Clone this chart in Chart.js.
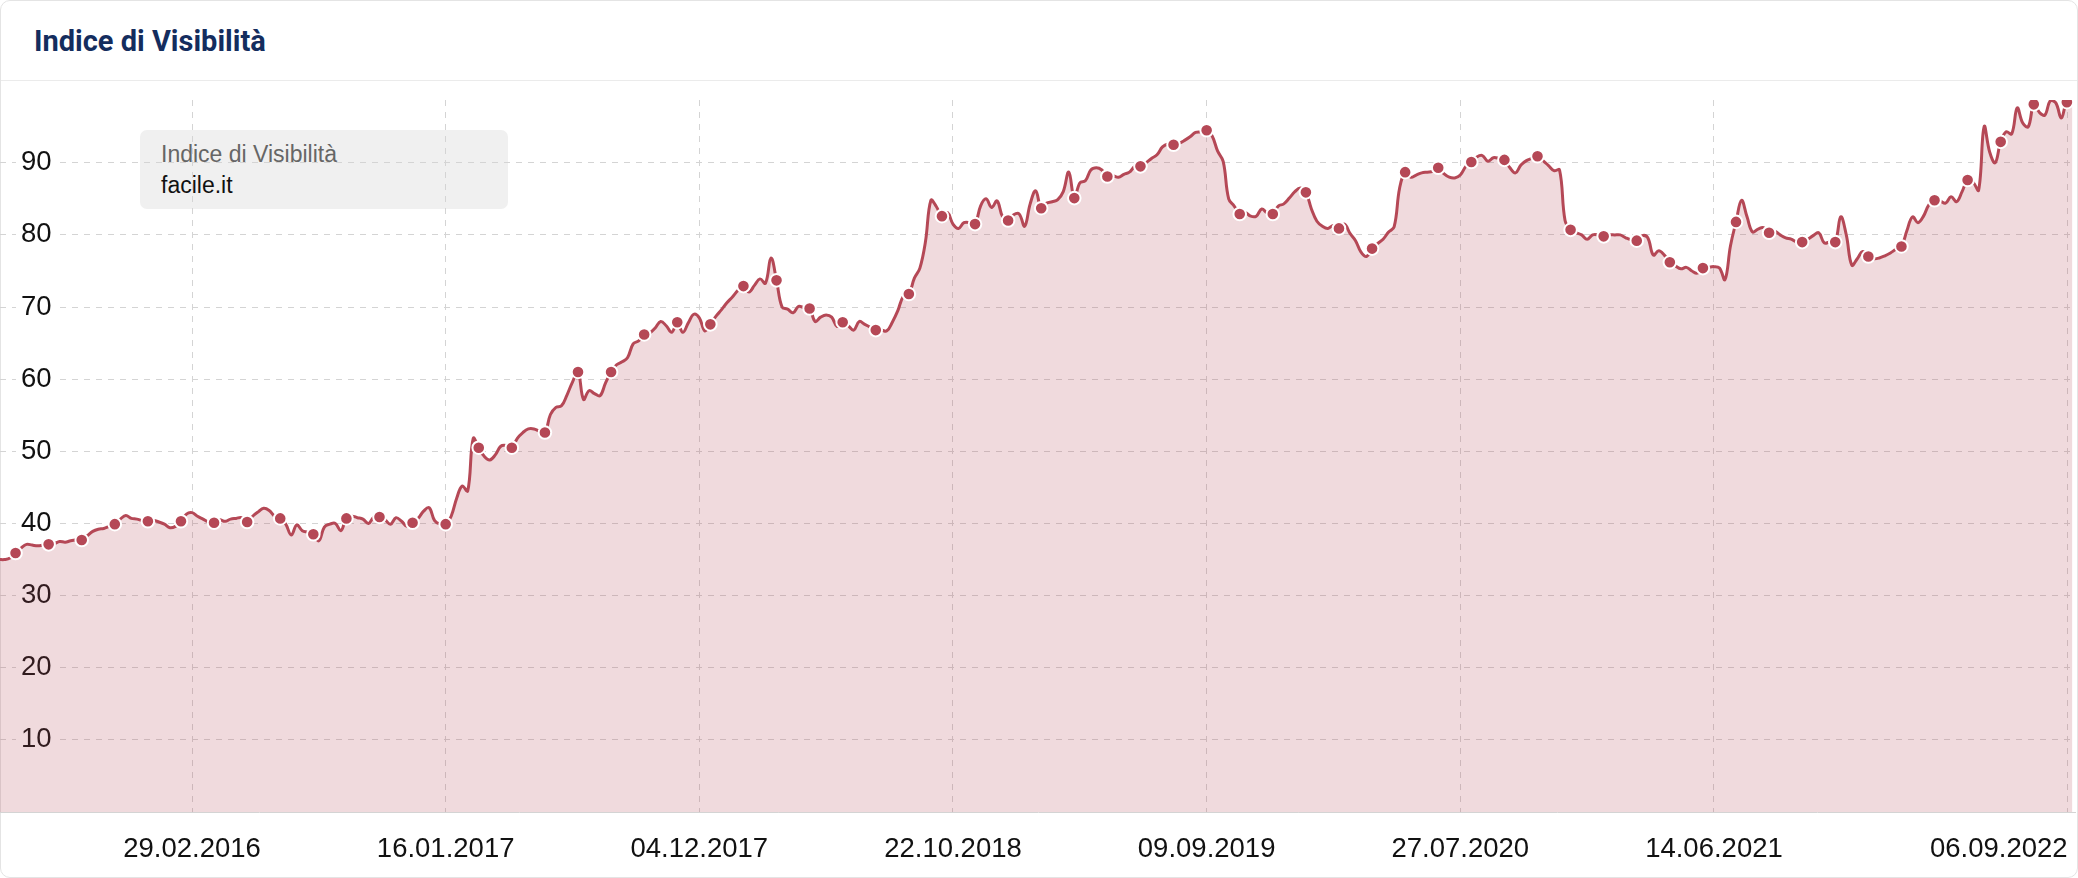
<!DOCTYPE html>
<html lang="it">
<head>
<meta charset="utf-8">
<title>Indice di Visibilità</title>
<script src="https://cdn.jsdelivr.net/npm/chart.js@4.4.0/dist/chart.umd.min.js"></script>
<style>
  html, body { margin: 0; padding: 0; background: #fff; }
  body { width: 2078px; height: 878px; position: relative; overflow: hidden; font-family: "Liberation Sans", Arial, sans-serif; }
  .card { position: absolute; left: 0; top: 0; width: 2078px; height: 878px; box-sizing: border-box; border: 1px solid #e4e4e4; border-radius: 10px; background: #fff; }
  .card-title { position: absolute; left: 33px; top: 26px; margin: 0; font: 700 29px/29px Roboto, sans-serif; color: #142d5e; white-space: nowrap; }
  .card-sep { position: absolute; left: 0; right: 0; top: 79px; height: 1px; background: #ebebeb; }
  .legend-box { position: absolute; left: 140px; top: 130px; width: 368px; height: 79px; border-radius: 7px; background: #f0f0f0; }
  .legend-box span { position: absolute; left: 21px; font-size: 23px; line-height: 23px; white-space: nowrap; }
  .legend-metric { top: 13px; color: #666; }
  .legend-domain { top: 44px; color: #111; }
  .chart-wrap { position: absolute; left: 0; top: 80px; width: 2076px; height: 798px; }
</style>
</head>
<body>
<div class="card">
  <h2 class="card-title">Indice di Visibilità</h2>
  <div class="card-sep"></div>
</div>
<div class="legend-box">
  <span class="legend-metric">Indice di Visibilità</span>
  <span class="legend-domain">facile.it</span>
</div>
<div class="chart-wrap"><canvas id="chartVisibilita"></canvas></div>

<script>
// serie settimanale, il primo valore corrisponde al 29.06.2015
const startDate = "2015-06-29";
const tickLabels = ["29.02.2016", "16.01.2017", "04.12.2017", "22.10.2018", "09.09.2019", "27.07.2020", "14.06.2021", "06.09.2022"];
const visibilityValues = [
  35.0, 35.0, 35.2, 35.9, 36.6, 37.1, 37.0, 36.9, 37.0, 37.1,
  37.2, 37.5, 37.4, 37.6, 37.7, 37.7, 38.3, 38.9, 39.2, 39.3,
  39.6, 39.9, 40.6, 41.1, 40.7, 40.6, 40.4, 40.3, 40.4, 40.2,
  39.9, 39.4, 39.6, 40.3, 41.3, 41.5, 41.0, 40.6, 40.2, 40.1,
  40.5, 40.3, 40.6, 40.7, 40.8, 40.2, 41.0, 41.6, 42.1, 41.8,
  41.0, 40.7, 39.9, 38.4, 39.8, 39.0, 38.8, 38.5, 37.6, 39.5,
  39.9, 40.0, 39.0, 40.7, 41.0, 40.8, 40.6, 40.0, 40.9, 40.9,
  40.5, 39.9, 40.8, 40.3, 39.6, 40.1, 40.7, 41.7, 42.2, 40.4,
  39.9, 39.9, 41.0, 43.5, 45.2, 44.5, 51.8, 50.5, 49.3, 48.8,
  49.5, 50.7, 50.8, 50.5, 51.8, 52.6, 53.1, 53.1, 52.8, 52.6,
  55.1, 56.1, 56.3, 57.8, 59.6, 61.0, 57.2, 58.4, 58.0, 57.7,
  59.5, 61.0, 62.0, 62.4, 63.0, 64.9, 65.3, 66.2, 66.4, 67.1,
  68.0, 67.4, 66.5, 67.9, 66.5, 67.8, 69.0, 68.5, 66.7, 67.6,
  68.7, 69.6, 70.6, 71.4, 72.3, 72.9, 72.1, 73.0, 73.9, 73.3,
  76.8, 73.7, 70.0, 69.7, 69.2, 70.1, 69.9, 69.8, 68.0, 68.6,
  68.9, 68.6, 67.3, 67.9, 67.4, 66.8, 68.0, 67.6, 67.2, 66.8,
  66.8, 66.7, 67.9, 69.5, 71.5, 71.8, 74.0, 75.4, 79.0, 84.8,
  83.9, 82.6, 83.1, 81.5, 80.9, 81.7, 81.7, 81.5, 84.0, 85.0,
  83.8, 84.7, 82.5, 82.0, 82.8, 82.9, 81.2, 84.3, 86.1, 83.7,
  84.4, 84.6, 84.9, 86.0, 88.7, 85.1, 87.2, 87.5, 89.0, 89.3,
  89.0, 88.1, 88.2, 88.0, 88.4, 88.7, 89.5, 89.5, 90.0, 90.6,
  91.1, 92.2, 92.6, 92.5, 92.7, 93.1, 93.6, 94.2, 94.3, 94.5,
  93.7, 91.6, 90.2, 85.0, 84.0, 82.9, 83.1, 82.6, 82.6, 83.6,
  83.0, 82.9, 84.0, 84.3, 85.1, 86.0, 86.5, 85.9, 83.6, 81.9,
  81.2, 80.9, 81.3, 80.9, 81.5, 80.2, 79.2, 77.6, 77.0, 78.1,
  78.8, 79.4, 80.4, 81.1, 86.5, 88.7, 88.0, 88.3, 88.6, 88.7,
  88.8, 89.3, 88.5, 88.0, 87.9, 88.3, 89.5, 90.1, 90.8, 91.0,
  90.2, 90.7, 90.6, 90.4, 89.3, 88.6, 89.7, 90.3, 90.6, 90.9,
  90.3, 89.6, 88.9, 89.0, 82.0, 80.7, 80.3, 80.0, 79.4, 80.0,
  80.0, 79.8, 80.0, 80.0, 80.0, 79.6, 79.3, 79.2, 79.9, 79.6,
  77.2, 77.8, 77.2, 76.2, 75.7, 75.3, 75.5, 75.0, 74.7, 75.4,
  75.5, 75.6, 75.4, 73.8, 78.5, 81.8, 84.8, 82.5, 80.4, 80.8,
  81.0, 80.3, 80.5, 80.0, 79.6, 79.4, 79.0, 79.0, 79.4, 79.9,
  80.3, 78.9, 79.0, 79.0, 82.5, 80.0, 75.8, 76.7, 77.7, 77.0,
  76.7, 76.8, 77.1, 77.5, 78.0, 78.4, 80.6, 82.5, 81.7, 82.6,
  84.2, 84.8, 84.7, 84.4, 85.3, 84.6, 86.0, 87.6, 87.3, 86.2,
  95.0, 91.5, 90.0, 92.9, 94.3, 94.0, 97.6, 95.5, 95.0, 98.1,
  97.0, 96.6, 98.6, 98.3, 96.2, 98.4, 98.0
];

const lineaColore = "#b54856";
const grigliaColore = "#d4d4d4";
const trasparente = "rgba(0,0,0,0)";
const fontAssi = { family: "'Liberation Sans', Arial, sans-serif", size: 27.5 };

function giorniDaInizio(label) {
  const [d, m, y] = label.split(".").map(Number);
  const [sy, sm, sd] = startDate.split("-").map(Number);
  return Math.round((Date.UTC(y, m - 1, d) - Date.UTC(sy, sm - 1, sd)) / 86400000);
}

const tickDays = tickLabels.map(giorniDaInizio);
const labelByDay = {};
tickLabels.forEach((l, i) => { labelByDay[tickDays[i]] = l; });

// l'ultimo punto visibile con il pallino e' il penultimo della serie
const lastDotIndex = visibilityValues.length - 2;
const punti = visibilityValues.map((v, i) => ({ x: i * 7, y: v }));

const ctx = document.getElementById("chartVisibilita");

new Chart(ctx, {
  type: "line",
  data: {
    datasets: [
      {
        label: "facile.it",
        data: punti,
        borderColor: lineaColore,
        borderWidth: 3,
        backgroundColor: "rgba(181, 72, 86, 0.2)",
        fill: "origin",
        tension: 0.4,
        pointRadius: (c) => (c.dataIndex % 6 === 3 || c.dataIndex === lastDotIndex ? 6.3 : 0),
        pointBackgroundColor: lineaColore,
        pointBorderColor: "#fff",
        pointBorderWidth: 2,
        pointHoverRadius: 0,
      },
    ],
  },
  options: {
    responsive: true,
    maintainAspectRatio: false,
    animation: false,
    devicePixelRatio: 1,
    layout: { autoPadding: false, padding: { top: 20, bottom: 12, left: 0, right: 0 } },
    plugins: {
      legend: { display: false },
      tooltip: { enabled: false },
    },
    scales: {
      x: {
        type: "linear",
        min: 1.27,
        max: 2636.6,
        afterBuildTicks: (axis) => {
          axis.ticks = [{ value: axis.min }].concat(tickDays.map((d) => ({ value: d })));
        },
        afterFit: (axis) => {
          axis.height = 54;
          axis.paddingLeft = 0;
          axis.paddingRight = 0;
        },
        ticks: {
          autoSkip: false,
          maxRotation: 0,
          align: "inner",
          padding: 21,
          color: "#111",
          font: fontAssi,
          callback: (value) => labelByDay[value] || "",
        },
        grid: {
          drawTicks: false,
          color: (c) => (c.tick && labelByDay[c.tick.value] ? grigliaColore : trasparente),
        },
        border: { display: true, color: "#d4d4d4", width: 1, dash: [6, 6] },
      },
      y: {
        min: 0,
        max: 98.7,
        afterFit: (axis) => {
          axis.width = 0;
          axis.paddingTop = 0;
          axis.paddingBottom = 0;
        },
        ticks: {
          stepSize: 10,
          includeBounds: false,
          mirror: true,
          padding: 21,
          color: "#111",
          font: fontAssi,
          showLabelBackdrop: true,
          backdropPadding: { left: 5, right: 7, top: 0, bottom: 0 },
          backdropColor: (c) => (c.tick && c.tick.value === 0 ? trasparente : "#fff"),
          callback: (value) => (value === 0 ? "" : value),
        },
        grid: {
          drawTicks: false,
          color: (c) => (c.tick && c.tick.value === 0 ? trasparente : grigliaColore),
        },
        border: { display: false, dash: [6, 6] },
      },
    },
  },
});
</script>
</body>
</html>
